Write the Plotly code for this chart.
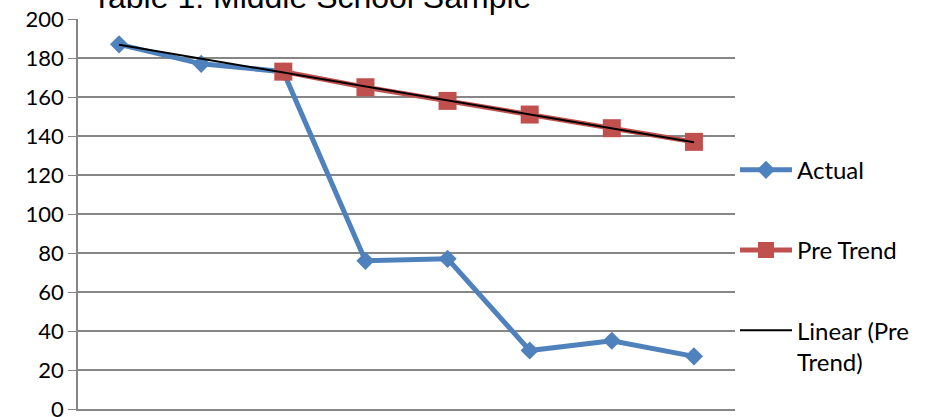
import numpy as np
import plotly.graph_objects as go

categories = [1, 2, 3, 4, 5, 6, 7, 8]
actual = [187, 177, 173, 76, 77, 30, 35, 27]
pre_trend = [None, None, 173, 165, 158, 151, 144, 137]
y_ticks = [0, 20, 40, 60, 80, 100, 120, 140, 160, 180, 200]
title_text = "Table 1: Middle School Sample"

# Linear trendline of Pre Trend (fit on available points, shown over all categories)
px = np.array([c for c, v in zip(categories, pre_trend) if v is not None], dtype=float)
py = np.array([v for v in pre_trend if v is not None], dtype=float)
slope, intercept = np.polyfit(px, py, 1)
trend = [slope * c + intercept for c in categories]

fig = go.Figure()
fig.add_trace(go.Scatter(
    x=categories, y=actual, name="Actual", mode="lines+markers",
    line=dict(color="#4F81BD", width=5),
    marker=dict(symbol="diamond", size=14, color="#4F81BD"),
    legendgroup="a"))
fig.add_trace(go.Scatter(
    x=categories, y=pre_trend, name="Pre Trend", mode="lines+markers",
    line=dict(color="#C0504D", width=5),
    marker=dict(symbol="square", size=18, color="#C0504D"),
    legendgroup="b"))
fig.add_trace(go.Scatter(
    x=categories, y=trend, name="Linear (Pre<br>Trend)", mode="lines",
    line=dict(color="#000000", width=2),
    legendgroup="c"))

fig.update_layout(
    width=925, height=417,
    margin=dict(l=78, r=190, t=19, b=8, autoexpand=False),
    paper_bgcolor="white", plot_bgcolor="white",
    font=dict(family="Lato", size=22, color="#000000"),
    showlegend=True,
    legend=dict(x=1.0, xanchor="left", y=0.67, yanchor="top",
                font=dict(family="Lato", size=24),
                tracegroupgap=46, valign="top", itemwidth=52,
                bgcolor="rgba(0,0,0,0)"),
    annotations=[dict(text=title_text, xref="paper", yref="paper",
                      x=0.018, y=1.0, xanchor="left", yanchor="bottom",
                      yshift=2, showarrow=False,
                      font=dict(family="Liberation Sans", size=32, color="#000000"))],
)
fig.update_xaxes(range=[0.5, 8.5], showgrid=False, showticklabels=False,
                 showline=True, linecolor="#868686", linewidth=1.5,
                 zeroline=False, ticks="")
fig.update_yaxes(range=[0, 200], tickvals=y_ticks, showgrid=True,
                 gridcolor="#868686", gridwidth=1.5,
                 showline=True, linecolor="#868686", linewidth=1.5,
                 ticks="outside", ticklen=8, tickcolor="#868686",
                 zeroline=False, ticklabeloverflow="allow",
                 tickfont=dict(family="Lato", size=22))

fig.write_html("out.html")
